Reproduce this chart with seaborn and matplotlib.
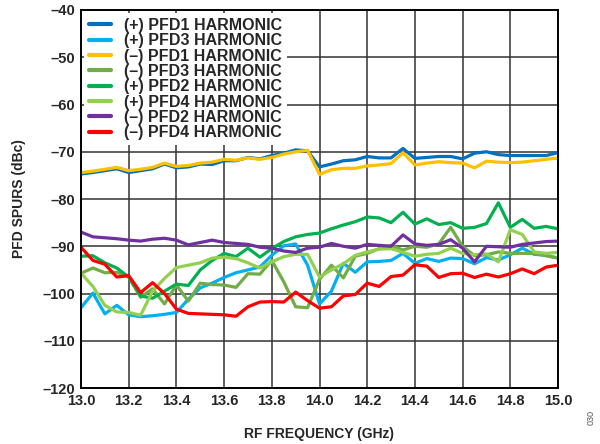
import numpy as np
import pandas as pd
import matplotlib
matplotlib.use("Agg")
import matplotlib.pyplot as plt
import seaborn as sns

# frequency points (GHz)
freq = [13.00, 13.05, 13.10, 13.15, 13.20, 13.25, 13.30, 13.35, 13.40, 13.45,
        13.50, 13.55, 13.60, 13.65, 13.70, 13.75, 13.80, 13.85, 13.90, 13.95,
        14.00, 14.05, 14.10, 14.15, 14.20, 14.25, 14.30, 14.35, 14.40, 14.45,
        14.50, 14.55, 14.60, 14.65, 14.70, 14.75, 14.80, 14.85, 14.90, 14.95,
        15.00]

pos_pfd1 = [-74.7, -74.4, -74.0, -73.6, -74.4, -74.0, -73.6, -72.6, -73.4, -73.2,
            -72.6, -72.7, -71.9, -71.9, -71.2, -71.5, -70.8, -70.3, -69.6, -69.8,
            -73.2, -72.6, -71.9, -71.7, -71.0, -71.3, -71.3, -69.3, -71.4, -71.2,
            -71.0, -71.0, -71.5, -70.3, -70.0, -70.6, -70.8, -70.8, -70.8, -70.8,
            -70.2]
pos_pfd3 = [-103.0, -99.9, -104.3, -102.5, -104.5, -104.9, -104.7, -104.4, -104.0, -101.2,
            -98.8, -97.8, -96.6, -95.6, -95.0, -94.4, -91.9, -89.9, -89.5, -94.0,
            -102.2, -99.5, -93.6, -95.5, -93.3, -93.2, -93.0, -91.5, -93.6, -92.6,
            -93.2, -92.5, -92.6, -93.7, -92.4, -92.9, -91.8, -90.4, -91.7, -91.9,
            -92.5]
neg_pfd1 = [-74.4, -74.1, -73.7, -73.3, -74.0, -73.7, -73.3, -72.4, -73.1, -72.9,
            -72.4, -72.2, -71.6, -71.8, -71.3, -71.6, -71.2, -70.5, -70.0, -69.7,
            -74.8, -73.8, -73.5, -73.5, -73.0, -72.8, -72.5, -70.2, -72.8, -72.4,
            -72.1, -72.3, -72.4, -73.4, -72.0, -72.2, -72.3, -72.2, -71.9, -71.6,
            -71.3]
neg_pfd3 = [-95.7, -94.6, -95.6, -95.5, -96.5, -100.8, -99.0, -102.2, -98.2, -101.6,
            -97.8, -98.1, -98.2, -98.7, -95.8, -95.9, -93.0, -97.5, -102.8, -103.0,
            -97.0, -94.0, -96.7, -92.1, -91.5, -90.5, -89.8, -90.8, -90.0, -90.2,
            -89.5, -86.0, -90.0, -92.0, -91.8, -91.2, -91.5, -91.5, -91.5, -92.0,
            -92.5]
pos_pfd2 = [-92.1, -92.0, -93.5, -94.6, -96.5, -100.5, -101.0, -99.5, -98.0, -98.3,
            -95.0, -93.0, -91.5, -92.2, -90.4, -92.3, -90.5, -89.0, -88.0, -87.5,
            -87.2, -86.3, -85.5, -84.8, -83.8, -84.0, -85.0, -82.8, -85.3, -84.2,
            -85.4, -85.0, -86.2, -86.0, -85.2, -80.8, -86.0, -84.3, -86.2, -85.8,
            -86.3]
pos_pfd4 = [-95.7, -98.5, -102.5, -103.9, -104.0, -104.6, -99.5, -96.8, -94.5, -94.0,
            -93.5, -92.5, -92.3, -92.6, -93.5, -94.6, -93.3, -92.2, -91.7, -91.7,
            -96.5, -95.0, -93.7, -91.9, -91.2, -90.6, -90.5, -91.3, -92.1, -91.7,
            -91.5, -90.4, -91.5, -91.8, -91.6, -93.3, -86.5, -87.5, -91.2, -91.5,
            -91.3]
neg_pfd2 = [-87.0, -88.0, -88.2, -88.4, -88.7, -88.9, -88.5, -88.3, -88.7, -89.7,
            -89.2, -88.7, -89.2, -89.4, -89.6, -90.2, -90.4, -91.0, -91.3, -90.4,
            -90.2, -89.4, -90.0, -90.4, -89.6, -89.8, -90.0, -87.6, -89.5, -89.8,
            -89.6, -88.6, -90.4, -93.3, -90.0, -90.1, -90.2, -89.6, -89.3, -89.0,
            -88.9]
neg_pfd4 = [-90.2, -93.0, -93.8, -96.5, -96.2, -99.8, -97.7, -100.0, -103.3, -104.2,
            -104.3, -104.4, -104.5, -104.8, -102.8, -101.8, -101.7, -101.8, -99.7, -101.5,
            -103.1, -102.8, -100.5, -100.2, -97.8, -98.5, -96.4, -96.1, -93.9, -94.2,
            -96.6, -95.8, -95.7, -96.6, -95.9, -96.5, -95.8, -94.8, -95.8, -94.4,
            -94.0]

labels = ["(+) PFD1 HARMONIC", "(+) PFD3 HARMONIC", "(\u2013) PFD1 HARMONIC",
          "(\u2013) PFD3 HARMONIC", "(+) PFD2 HARMONIC", "(+) PFD4 HARMONIC",
          "(\u2013) PFD2 HARMONIC", "(\u2013) PFD4 HARMONIC"]
series = [pos_pfd1, pos_pfd3, neg_pfd1, neg_pfd3, pos_pfd2, pos_pfd4, neg_pfd2, neg_pfd4]
colors = ["#0070C0", "#00B0F0", "#FFC000", "#70AD47",
          "#00B050", "#92D050", "#7030A0", "#FF0000"]

x_ticks = [13.0, 13.2, 13.4, 13.6, 13.8, 14.0, 14.2, 14.4, 14.6, 14.8, 15.0]
y_ticks = [-40, -50, -60, -70, -80, -90, -100, -110, -120]

sns.set_style("white")
plt.rcParams['font.family'] = ['Liberation Sans', 'DejaVu Sans']
plt.rcParams['font.weight'] = 'bold'

fig = plt.figure(figsize=(6, 4.44), dpi=100)
ax = fig.add_axes([0.135, 0.126, 0.795, 0.8515])

for vals, lab, col in zip(series, labels, colors):
    sns.lineplot(x=freq, y=vals, ax=ax, color=col, label=lab, linewidth=2.3)

ax.set_xlim(13.0, 15.0)
ax.set_ylim(-120, -40)
ax.set_xticks(x_ticks)
ax.set_xticklabels([f"{t:.1f}" for t in x_ticks], fontsize=10.5, fontweight='bold')
ax.set_yticks(y_ticks)
ax.set_yticklabels([f"\u2013{abs(t)}" for t in y_ticks], fontsize=10.5, fontweight='bold')
ax.grid(True, color="#333333", linewidth=1.1)
for s in ax.spines.values():
    s.set_color("black")
    s.set_linewidth(1.4)
ax.tick_params(axis='both', length=0, pad=4)

ax.set_xlabel("RF FREQUENCY (GHz)", fontsize=10, fontweight='bold', labelpad=14)
ax.set_ylabel("PFD SPURS (dBc)", fontsize=10, fontweight='bold', labelpad=12)

leg = ax.legend(loc='upper left', fontsize=11.5, frameon=True, framealpha=1,
                facecolor='white', edgecolor='none', handlelength=1.4,
                labelspacing=0.02, borderaxespad=0.2, borderpad=0.3,
                handletextpad=0.8)
for t in leg.get_texts():
    t.set_fontweight('bold')
for ln in leg.get_lines():
    ln.set_linewidth(3)

fig.text(0.985, 0.06, "030", rotation=90, fontsize=6.5, color="#555555",
         fontweight='normal', ha='center', va='center')

fig.savefig("out.png", dpi=100)
